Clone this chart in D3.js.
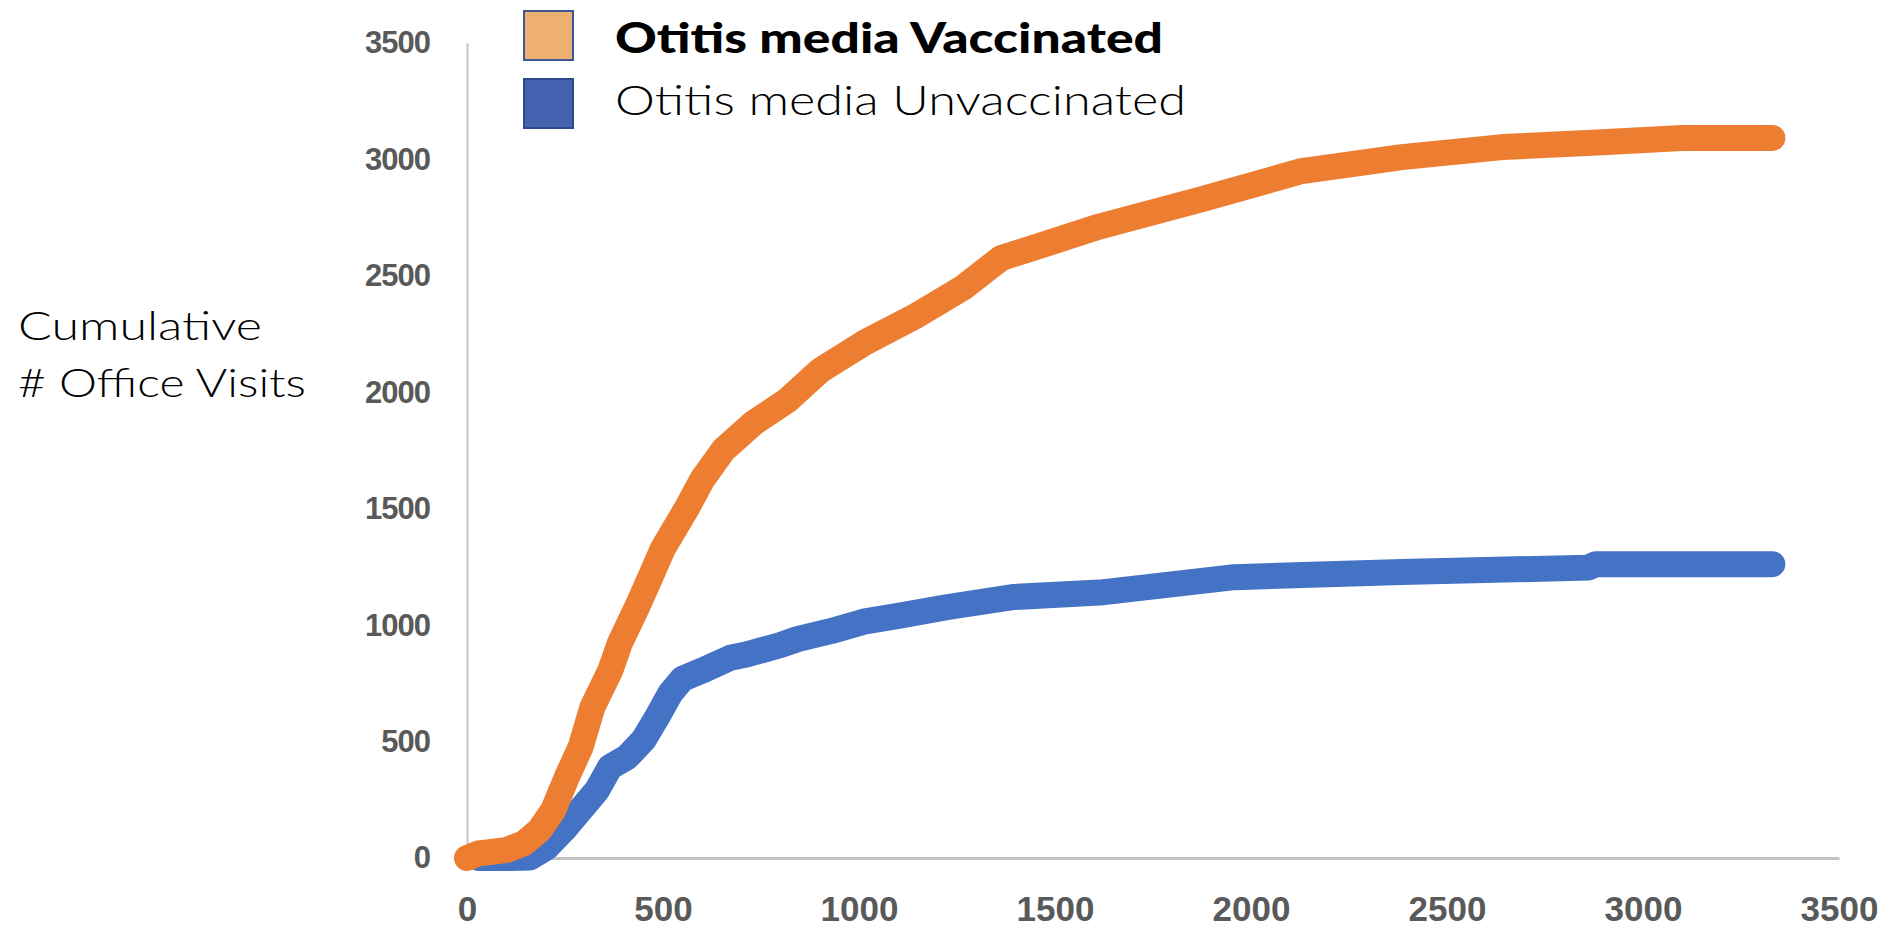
<!DOCTYPE html>
<html>
<head>
<meta charset="utf-8">
<script src="https://cdn.jsdelivr.net/npm/d3@7"></script>
<style>
  body { margin: 0; background: #fff; }
  svg { display: block; }
</style>
</head>
<body>
<div id="chart"></div>
<script>
var width = 1888
var height = 927

// Otitis media, vaccinated (orange)
var vaccDays = [0, 30, 100, 145, 185, 220, 255, 290, 320, 366, 390, 434, 468, 500, 560, 600, 654, 731, 818, 902,
  1012, 1140, 1268, 1362, 1482, 1614, 1874, 2129, 2385, 2641, 2896, 3100, 3330]
var vaccVisits = [0, 20, 34, 63, 120, 206, 348, 477, 648, 807, 923, 1078, 1207, 1330, 1500, 1625, 1752, 1868, 1966, 2095,
  2211, 2323, 2452, 2576, 2641, 2712, 2829, 2950, 3010, 3053, 3074, 3092, 3092]

// Otitis media, unvaccinated (blue)
var unvaccDays = [30, 110, 160, 204, 246, 289, 332, 365, 409, 450, 485, 519, 550, 600, 672, 715, 800, 843, 930, 1012,
  1100, 1227, 1396, 1614, 1958, 2385, 2860, 2880, 3330]
var unvaccVisits = [0, 0, 2, 47, 120, 206, 292, 391, 434, 507, 605, 708, 770, 805, 860, 875, 915, 940, 975, 1015,
  1040, 1078, 1121, 1140, 1206, 1228, 1247, 1262, 1262]

var xTicks = [0, 500, 1000, 1500, 2000, 2500, 3000, 3500]
var yTicks = [0, 500, 1000, 1500, 2000, 2500, 3000, 3500]

var seriesNames = ["Otitis media Vaccinated", "Otitis media Unvaccinated"]
var yTitle = ["Cumulative", "# Office Visits"]

var svg = d3.select("#chart").append("svg")
  .attr("width", width)
  .attr("height", height)

var x = d3.scaleLinear().domain([0, 3500]).range([467, 1839])
var y = d3.scaleLinear().domain([0, 3500]).range([858, 43])

// axes: grey lines, no tick marks
var xAxis = svg.append("g")
  .attr("transform", "translate(0," + y(0) + ")")
  .call(d3.axisBottom(x).tickValues(xTicks).tickSize(0).tickPadding(38).tickFormat(d3.format("d")))
xAxis.select(".domain").attr("stroke", "#c3c3c3").attr("stroke-width", 3)
xAxis.selectAll("text")
  .attr("fill", "#595959")
  .style("font-family", "'Liberation Sans', Arial, sans-serif")
  .style("font-weight", "bold")
  .style("font-size", "35px")

var yAxis = svg.append("g")
  .attr("transform", "translate(" + x(0) + ",0)")
  .call(d3.axisLeft(y).tickValues(yTicks).tickSize(0).tickPadding(37).tickFormat(d3.format("d")))
yAxis.select(".domain").attr("stroke", "#c3c3c3").attr("stroke-width", 2)
yAxis.selectAll("text")
  .attr("fill", "#595959")
  .style("font-family", "'Liberation Sans', Arial, sans-serif")
  .style("font-weight", "bold")
  .style("font-size", "31px")
  .style("letter-spacing", "-1px")

// lines
var line = d3.line()
  .x(function(d) { return x(d[0]); })
  .y(function(d) { return y(d[1]); })

var unvacc = d3.zip(unvaccDays, unvaccVisits)
var vacc = d3.zip(vaccDays, vaccVisits)

svg.append("path")
  .datum(unvacc)
  .attr("d", line)
  .attr("fill", "none")
  .attr("stroke", "#4472c4")
  .attr("stroke-width", 26)
  .attr("stroke-linecap", "round")
  .attr("stroke-linejoin", "round")

svg.append("path")
  .datum(vacc)
  .attr("d", line)
  .attr("fill", "none")
  .attr("stroke", "#ed7d31")
  .attr("stroke-width", 26)
  .attr("stroke-linecap", "round")
  .attr("stroke-linejoin", "round")

// legend
var legend = svg.append("g")
legend.append("rect")
  .attr("x", 524).attr("y", 11).attr("width", 49).attr("height", 49)
  .attr("fill", "#eeb070").attr("stroke", "#3f5796").attr("stroke-width", 2)
legend.append("rect")
  .attr("x", 524).attr("y", 79).attr("width", 49).attr("height", 49)
  .attr("fill", "#4561b0").attr("stroke", "#2f4a8c").attr("stroke-width", 2)

legend.append("text")
  .attr("x", 615).attr("y", 53)
  .attr("textLength", 548)
  .attr("lengthAdjust", "spacingAndGlyphs")
  .style("font-family", "Lato, sans-serif")
  .style("font-weight", "900")
  .style("font-size", "42px")
  .attr("fill", "#000")
  .text(seriesNames[0])
legend.append("text")
  .attr("x", 615).attr("y", 115)
  .attr("textLength", 571)
  .attr("lengthAdjust", "spacingAndGlyphs")
  .style("font-family", "Lato, sans-serif")
  .style("font-weight", "300")
  .style("font-size", "42px")
  .attr("fill", "#000")
  .text(seriesNames[1])

// y axis title
var ytitle = svg.append("text")
  .style("font-family", "Lato, sans-serif")
  .style("font-weight", "300")
  .style("font-size", "40px")
  .attr("fill", "#000")
ytitle.append("tspan").attr("x", 18).attr("y", 340)
  .attr("textLength", 244).attr("lengthAdjust", "spacingAndGlyphs").text(yTitle[0])
ytitle.append("tspan").attr("x", 18).attr("y", 397)
  .attr("textLength", 288).attr("lengthAdjust", "spacingAndGlyphs").text(yTitle[1])
</script>
</body>
</html>
